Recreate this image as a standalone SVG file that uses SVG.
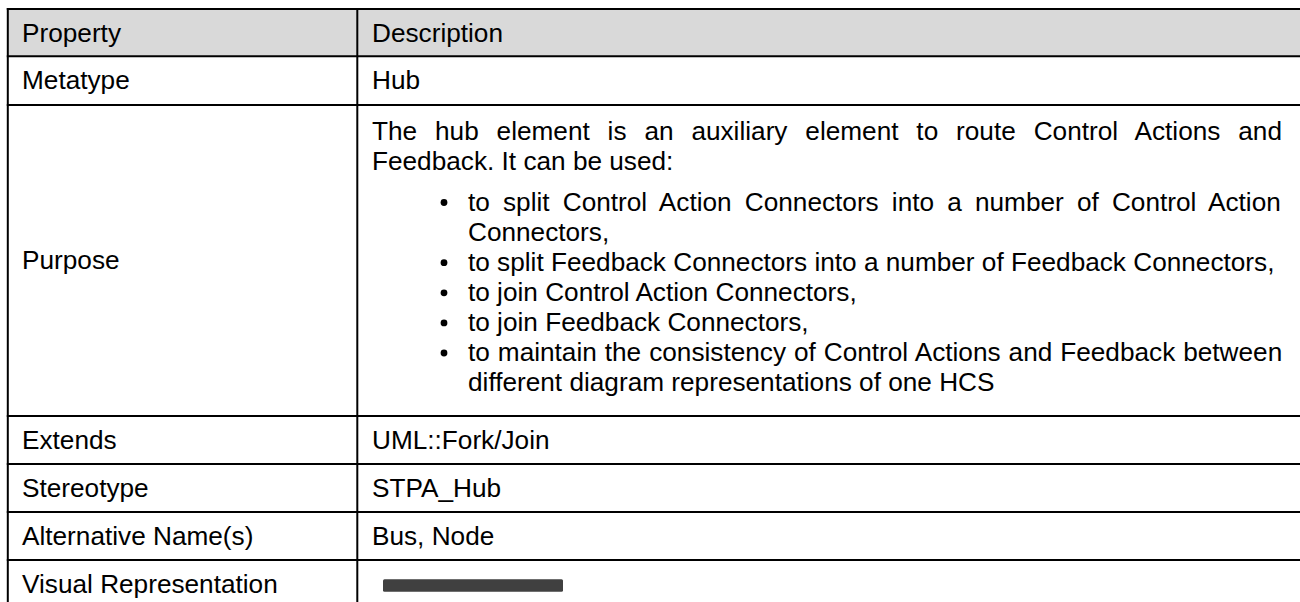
<svg xmlns="http://www.w3.org/2000/svg" width="1300" height="602" viewBox="0 0 1300 602">
<style>
.t{font-family:"Liberation Sans",Arial,sans-serif;font-size:26.2px;fill:#000}
.g{stroke:#000;stroke-width:2;fill:none}
.b{fill:#000}
</style>
<rect width="1300" height="602" fill="#fff"/>
<rect id="header-bg" x="7.8" y="9" width="1292.2" height="47.3" fill="#d9d9d9"/>
<g id="grid" class="g">
<line x1="6.8" y1="9" x2="1300" y2="9"/>
<line x1="6.8" y1="56.3" x2="1300" y2="56.3"/>
<line x1="6.8" y1="105" x2="1300" y2="105"/>
<line x1="6.8" y1="416" x2="1300" y2="416"/>
<line x1="6.8" y1="464" x2="1300" y2="464"/>
<line x1="6.8" y1="512" x2="1300" y2="512"/>
<line x1="6.8" y1="560" x2="1300" y2="560"/>
<line x1="7.8" y1="8" x2="7.8" y2="602"/>
<line x1="357.3" y1="8" x2="357.3" y2="602"/>
</g>
<g id="row-header">
<text class="t" x="22" y="41.5">Property</text>
<text class="t" x="372" y="41.5">Description</text>
</g>
<g id="row-metatype">
<text class="t" x="22" y="89">Metatype</text>
<text class="t" x="372" y="89">Hub</text>
</g>
<g id="row-purpose">
<text class="t" x="22" y="268.5">Purpose</text>
<text class="t" x="372" y="140" word-spacing="10.6">The hub element is an auxiliary element to route Control Actions and</text>
<text class="t" x="372" y="170">Feedback. It can be used:</text>
<circle class="b" cx="444" cy="202.5" r="3.4"/>
<text class="t" x="468" y="210.5" word-spacing="5.88">to split Control Action Connectors into a number of Control Action</text>
<text class="t" x="468" y="240.6">Connectors,</text>
<circle class="b" cx="444" cy="262.7" r="3.4"/>
<text class="t" x="468" y="270.7">to split Feedback Connectors into a number of Feedback Connectors,</text>
<circle class="b" cx="444" cy="292.8" r="3.4"/>
<text class="t" x="468" y="300.8">to join Control Action Connectors,</text>
<circle class="b" cx="444" cy="322.9" r="3.4"/>
<text class="t" x="468" y="330.9">to join Feedback Connectors,</text>
<circle class="b" cx="444" cy="353" r="3.4"/>
<text class="t" x="468" y="361" word-spacing="0.7">to maintain the consistency of Control Actions and Feedback between</text>
<text class="t" x="468" y="391.1">different diagram representations of one HCS</text>
</g>
<g id="row-extends">
<text class="t" x="22" y="449">Extends</text>
<text class="t" x="372" y="449">UML::Fork/Join</text>
</g>
<g id="row-stereotype">
<text class="t" x="22" y="497">Stereotype</text>
<text class="t" x="372" y="497">STPA_Hub</text>
</g>
<g id="row-altnames">
<text class="t" x="22" y="545">Alternative Name(s)</text>
<text class="t" x="372" y="545">Bus, Node</text>
</g>
<g id="row-visual">
<text class="t" x="22" y="593">Visual Representation</text>
<rect id="hub-symbol" x="383" y="579.3" width="180" height="12.4" rx="1.5" fill="#404040"/>
</g>
</svg>
